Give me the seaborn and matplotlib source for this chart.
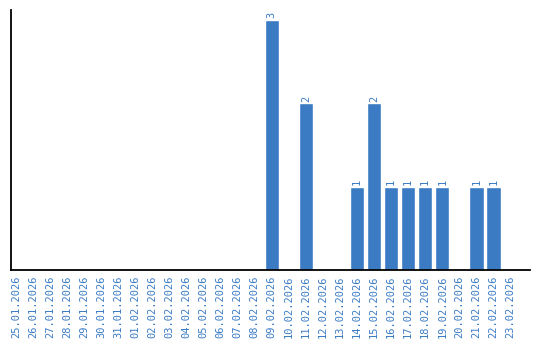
import matplotlib
matplotlib.use("Agg")
import matplotlib.pyplot as plt
import seaborn as sns
import pandas as pd

dates = ["25.01.2026", "26.01.2026", "27.01.2026", "28.01.2026", "29.01.2026", "30.01.2026",
         "31.01.2026", "01.02.2026", "02.02.2026", "03.02.2026", "04.02.2026", "05.02.2026",
         "06.02.2026", "07.02.2026", "08.02.2026", "09.02.2026", "10.02.2026", "11.02.2026",
         "12.02.2026", "13.02.2026", "14.02.2026", "15.02.2026", "16.02.2026", "17.02.2026",
         "18.02.2026", "19.02.2026", "20.02.2026", "21.02.2026", "22.02.2026", "23.02.2026"]
counts = [0, 0, 0, 0, 0, 0, 0, 0, 0, 0, 0, 0, 0, 0, 0, 3, 0, 2, 0, 0, 1, 2, 1, 1, 1, 1, 0, 1, 1, 0]

df = pd.DataFrame({"date": dates, "count": counts})

sns.set_style("white")
plt.rcParams["font.family"] = ["DejaVu Sans Mono"]
fig = plt.figure(figsize=(5.4, 3.4), dpi=100)
ax = fig.add_axes([11/540, 70/340, 519/540, 260/340])
color = "#3a7bc4"
sns.barplot(data=df, x="date", y="count", color=color, saturation=1, width=0.85, ax=ax)
ax.set_xlim(-0.3, 30.15)
ax.set_ylim(0, 3.12)
ax.set_xlabel("")
ax.set_ylabel("")
ax.set_yticks([])
ax.tick_params(axis="x", rotation=90, labelsize=7.5, labelcolor=color, length=0, pad=4)
for s in ["top", "right"]:
    ax.spines[s].set_visible(False)
for s in ["left", "bottom"]:
    ax.spines[s].set_color("black")
    ax.spines[s].set_linewidth(1.3)
for i, v in enumerate(counts):
    if v > 0:
        ax.text(i, v + 0.02, str(v), rotation=90, ha="center", va="bottom",
                fontsize=7.5, color=color)
fig.savefig("out.png", dpi=100)
